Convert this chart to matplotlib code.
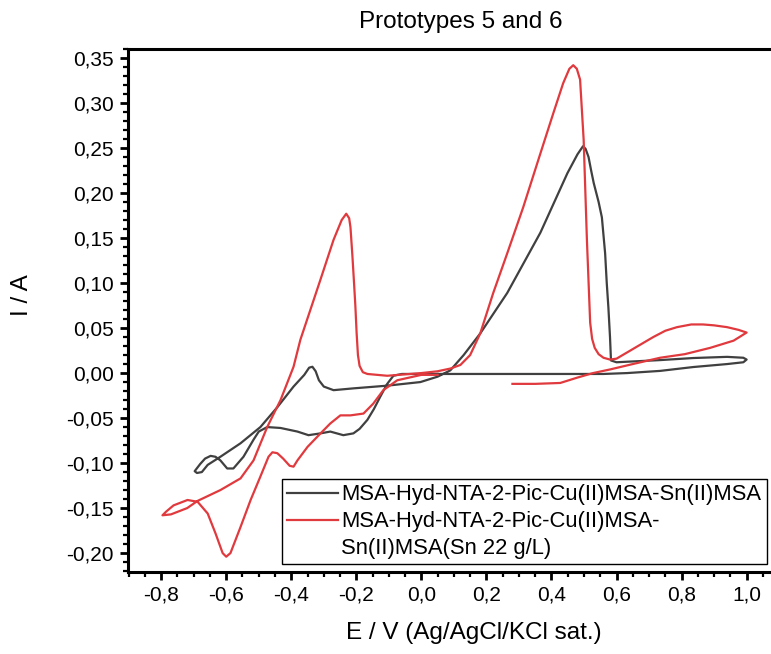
import matplotlib
matplotlib.use("Agg")
import matplotlib.pyplot as plt
from matplotlib.ticker import MultipleLocator, FuncFormatter
from matplotlib.lines import Line2D

plt.rcParams['font.family'] = ['Liberation Sans', 'DejaVu Sans']
plt.rcParams['axes.unicode_minus'] = False

title = "Prototypes 5 and 6"
xlabel = "E / V (Ag/AgCl/KCl sat.)"
ylabel = "I / A"
label_black = "MSA-Hyd-NTA-2-Pic-Cu(II)MSA-Sn(II)MSA"
label_red_1 = "MSA-Hyd-NTA-2-Pic-Cu(II)MSA-"
label_red_2 = "Sn(II)MSA(Sn 22 g/L)"

black_E = [0.05, 0.0, -0.06, -0.086, -0.105, -0.126, -0.146, -0.166, -0.19, -0.209,
           -0.24, -0.26, -0.28, -0.31, -0.347, -0.381, -0.433, -0.474, -0.50, -0.516,
           -0.547, -0.578, -0.597, -0.618, -0.633, -0.648, -0.665, -0.68, -0.697,
           -0.69, -0.675, -0.657, -0.618, -0.556, -0.495, -0.443, -0.393, -0.36,
           -0.345, -0.335, -0.325, -0.315, -0.30, -0.27, -0.209, -0.105, -0.003,
           0.05, 0.089, 0.13, 0.181, 0.264, 0.366, 0.449, 0.48, 0.497, 0.505, 0.514,
           0.522, 0.53, 0.545, 0.555, 0.565, 0.57, 0.575, 0.58, 0.583, 0.60, 0.633,
           0.734, 0.836, 0.94, 0.99, 1.0, 0.99, 0.94, 0.836, 0.734, 0.633, 0.56,
           0.45, 0.30, 0.15, 0.05]
black_I = [-0.001, -0.001, -0.001, -0.003, -0.012, -0.026, -0.040, -0.052, -0.062, -0.067,
           -0.069, -0.067, -0.065, -0.067, -0.069, -0.065, -0.061, -0.060, -0.065, -0.074,
           -0.093, -0.106, -0.106, -0.097, -0.093, -0.092, -0.095, -0.101, -0.109,
           -0.111, -0.110, -0.102, -0.093, -0.078, -0.060, -0.038, -0.015, -0.002,
           0.006, 0.007, 0.002, -0.008, -0.015, -0.019, -0.017, -0.014, -0.010,
           -0.004, 0.003, 0.020, 0.044, 0.089, 0.156, 0.222, 0.243, 0.252, 0.249, 0.240,
           0.225, 0.211, 0.190, 0.173, 0.133, 0.100, 0.073, 0.040, 0.014, 0.012, 0.0126,
           0.0144, 0.0167, 0.018, 0.017, 0.015, 0.012, 0.010, 0.0067, 0.0024, 0.0, -0.001,
           -0.001, -0.001, -0.001, -0.001]

red_E = [0.05, 0.0, -0.074, -0.117, -0.148, -0.178, -0.218, -0.249, -0.28, -0.31,
         -0.35, -0.381, -0.393, -0.405, -0.425, -0.443, -0.458, -0.47, -0.495, -0.525,
         -0.556, -0.587, -0.60, -0.611, -0.633, -0.657, -0.688, -0.719, -0.762, -0.785,
         -0.796, -0.77, -0.72, -0.688, -0.618, -0.556, -0.516, -0.474, -0.433, -0.393,
         -0.372, -0.311, -0.27, -0.245, -0.231, -0.222, -0.218, -0.212, -0.207, -0.203,
         -0.199, -0.195, -0.19, -0.18, -0.166, -0.105, 0.0, 0.05, 0.089, 0.12, 0.15, 0.181,
         0.221, 0.264, 0.313, 0.366, 0.406, 0.436, 0.455, 0.467, 0.478, 0.488, 0.499,
         0.509, 0.519, 0.525, 0.533, 0.545, 0.56, 0.58, 0.60, 0.633, 0.68, 0.713, 0.75,
         0.786, 0.83, 0.866, 0.90, 0.94, 0.975, 1.0, 0.96, 0.888, 0.81, 0.734, 0.65,
         0.58, 0.528, 0.48, 0.427, 0.35, 0.28]
red_I = [-0.002, -0.002, -0.008, -0.019, -0.034, -0.045, -0.047, -0.047, -0.056, -0.067,
         -0.082, -0.097, -0.104, -0.103, -0.095, -0.089, -0.088, -0.093, -0.115, -0.141,
         -0.171, -0.200, -0.204, -0.200, -0.178, -0.156, -0.143, -0.141, -0.147, -0.154,
         -0.158, -0.157, -0.150, -0.142, -0.130, -0.117, -0.097, -0.060, -0.030, 0.007,
         0.037, 0.103, 0.148, 0.170, 0.177, 0.172, 0.162, 0.130, 0.100, 0.075,
         0.044, 0.020, 0.008, 0.001, -0.001, -0.003, 0.0, 0.002, 0.005, 0.009, 0.020, 0.044,
         0.089, 0.133, 0.184, 0.244, 0.289, 0.322, 0.338, 0.342, 0.338, 0.326, 0.259,
         0.148, 0.056, 0.038, 0.028, 0.021, 0.017, 0.015, 0.016, 0.023, 0.033, 0.040, 0.047,
         0.051, 0.054, 0.054, 0.053, 0.051, 0.048, 0.045, 0.036, 0.028, 0.021, 0.017, 0.010,
         0.004, 0.0, -0.005, -0.011, -0.012, -0.012]

W, H = 771, 654
fig = plt.figure(figsize=(W / 100, H / 100), dpi=100)
ax = fig.add_axes([128 / W, 1 - 572 / H, (W - 128) / W, (572 - 49) / H])

black_color = '#404040'
red_color = '#e03a3e'
ax.plot(black_E, black_I, color=black_color, lw=1.6)
ax.plot(red_E, red_I, color=red_color, lw=1.6)

ax.set_xlim(-0.902, 1.075)
ax.set_ylim(-0.221, 0.36)

ax.xaxis.set_major_locator(MultipleLocator(0.2))
ax.xaxis.set_minor_locator(MultipleLocator(0.05))
ax.yaxis.set_major_locator(MultipleLocator(0.05))
ax.yaxis.set_minor_locator(MultipleLocator(0.01))
ax.xaxis.set_major_formatter(FuncFormatter(lambda v, p: f"{v:.1f}".replace('.', ',').replace('-0,0', '0,0')))
ax.yaxis.set_major_formatter(FuncFormatter(lambda v, p: f"{v:.2f}".replace('.', ',').replace('-0,00', '0,00')))

for s in ['left', 'bottom', 'top']:
    ax.spines[s].set_linewidth(2.2)
ax.spines['right'].set_visible(False)
ax.tick_params(which='major', direction='out', length=6, width=2, labelsize=15, pad=4, colors='black')
ax.tick_params(which='minor', direction='out', length=3.5, width=1.6)
ax.tick_params(top=False, right=False)

fig.text(461 / W, 1 - 22 / H, title, ha='center', va='center', fontsize=17.5)
fig.text(474 / W, 1 - 633 / H, xlabel, ha='center', va='center', fontsize=17.5)
fig.text(22 / W, 1 - 295 / H, ylabel, ha='center', va='center', fontsize=17.5, rotation=90)

handles = [Line2D([], [], color=black_color, lw=1.6),
           Line2D([], [], color=red_color, lw=1.6),
           Line2D([], [], color='none', lw=0)]
labels = [label_black, label_red_1, label_red_2]
leg = ax.legend(handles, labels, loc='upper left', bbox_to_anchor=(282 / W, 1 - 479 / H),
                bbox_transform=fig.transFigure, borderaxespad=0, fontsize=15.8,
                handlelength=2.3, handletextpad=0.15, borderpad=0.25, labelspacing=0.26,
                fancybox=False, framealpha=1, edgecolor='black')
leg.get_frame().set_linewidth(1.0)

fig.savefig('out.png', dpi=100)
